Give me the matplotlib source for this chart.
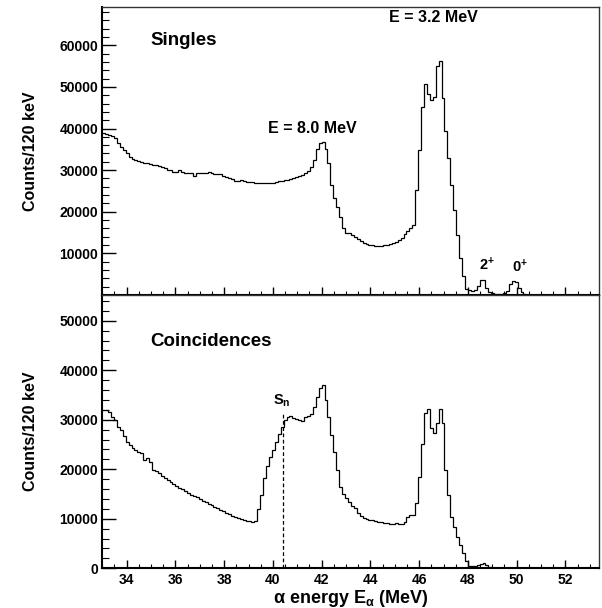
#!/usr/bin/env python3

"""Alpha energy spectra: singles (top) and coincidences (bottom).

Two stacked step histograms with 120 keV bins, drawn in a ROOT-like style.
Writes out.png.
"""

import matplotlib

matplotlib.use("Agg")
import matplotlib.pyplot as plt
from matplotlib.ticker import MultipleLocator
import numpy as np


# bins: 33.0 MeV + k * 0.12 MeV, 170 bins
bin_start = 33.0
bin_width = 0.12

singles = [
	38850, 38700, 38450, 38200, 37650, 36600, 35600, 34800, 34000, 33100,
	32600, 32400, 32250, 32000, 31800, 31600, 31400, 31200, 31200, 30950,
	30800, 30400, 30150, 30000, 29650, 29600, 30000, 29600, 29400, 29200,
	29200, 28600, 29200, 29200, 29200, 29350, 29600, 29200, 29100, 29000,
	29000, 28650, 28400, 28200, 27800, 27450, 27500, 27600, 27300, 27200,
	27100, 27050, 27000, 26950, 26950, 26900, 26800, 26950, 27000, 27150,
	27300, 27400, 27600, 27700, 27900, 28100, 28400, 28700, 28900, 29300,
	29700, 30800, 32400, 35200, 36600, 36800, 35000, 31800, 26500, 23400,
	21200, 18800, 16200, 15000, 14900, 14500, 13900, 13400, 12900, 12600,
	12300, 12100, 11900, 11800, 11750, 11800, 11900, 12100, 12300, 12500,
	12800, 13200, 13800, 14600, 15300, 16000, 16800, 25200, 34800, 45200,
	50800, 48200, 46800, 47500, 55100, 56300, 47300, 39500, 33000, 26500,
	20500, 14500, 9000, 4500, 1500, 1300, 1000, 1200, 2200, 3600,
	3600, 1800, 800, 400, 300, 200, 300, 500, 1000, 2600,
	3400, 3100, 1700, 700, 300, 100, 0, 0, 0, 0,
	0, 0, 0, 0, 0, 0, 0, 0, 0, 0,
	0, 0, 0, 0, 0, 0, 0, 0, 0, 0,
]

coincidences = [
	32000, 31900, 31600, 30600, 29900, 28600, 27900, 26700, 25600, 24900,
	24200, 23900, 23500, 23300, 21900, 22200, 21500, 19900, 19700, 19300,
	18600, 18200, 17900, 17500, 17100, 16700, 16300, 16000, 15700, 15300,
	14900, 14600, 14300, 13900, 13600, 13300, 13000, 12700, 12400, 12100,
	11800, 11500, 11200, 10900, 10600, 10400, 10200, 10000, 9800, 9600,
	9500, 9400, 9600, 11900, 14800, 18200, 20700, 22500, 23900, 25600,
	27100, 28600, 29900, 30600, 30800, 30300, 30200, 30000, 29800, 30600,
	30800, 31200, 32500, 34500, 36500, 37000, 34000, 30600, 27000, 23500,
	19800, 16500, 15000, 14200, 13400, 12600, 12100, 11200, 10500, 10100,
	9900, 9800, 9700, 9600, 9400, 9300, 9200, 9100, 9000, 8900,
	9100, 8900, 8900, 9400, 10400, 10700, 10800, 13100, 18500, 25200,
	31300, 32100, 28300, 27300, 29300, 32100, 29300, 19900, 14800, 10400,
	8400, 6400, 4700, 3000, 1400, 500, 400, 400, 600, 900,
	1000, 700, 200, 100, 0, 0, 0, 0, 0, 0,
	0, 0, 0, 0, 0, 0, 0, 0, 0, 0,
	0, 0, 0, 0, 0, 0, 0, 0, 0, 0,
	0, 0, 0, 0, 0, 0, 0, 0, 0, 0,
]

x_range = (33.0, 53.38)
singles_ylim = (0, 69200)
coinc_ylim = (0, 55200)
singles_yticks = [10000, 20000, 30000, 40000, 50000, 60000]
coinc_yticks = [0, 10000, 20000, 30000, 40000, 50000]
x_ticks = [34, 36, 38, 40, 42, 44, 46, 48, 50, 52]

s_n_energy = 40.4
s_n_height = 31600

y_title = "Counts/120 keV"
x_title = "α energy E$_{α}$ (MeV)"


def _style_axes(ax, yticks, ylim):
	ax.set_xlim(*x_range)
	ax.set_ylim(*ylim)
	ax.set_xticks(x_ticks)
	ax.xaxis.set_minor_locator(MultipleLocator(0.5))
	ax.set_yticks(yticks)
	ax.yaxis.set_minor_locator(MultipleLocator(2000))
	ax.tick_params(axis="both", which="both", direction="in",
		top=False, right=False, colors="black")
	ax.tick_params(axis="y", which="major", length=10, width=1.0, pad=3, labelsize=10)
	ax.tick_params(axis="y", which="minor", length=5, width=0.8)
	ax.tick_params(axis="x", which="major", length=6, width=1.0, pad=3.5, labelsize=10)
	ax.tick_params(axis="x", which="minor", length=3, width=0.8)
	for side in ("left", "bottom"):
		ax.spines[side].set_linewidth(1.5)
	for side in ("top", "right"):
		ax.spines[side].set_linewidth(1.0)
		ax.spines[side].set_color("#333333")
	ax.set_ylabel(y_title, fontsize=11.5, fontweight="bold")
	ax.yaxis.set_label_coords(-0.13, 0.5)


def main() -> None:
	plt.rcParams["font.family"] = ["Liberation Sans", "DejaVu Sans"]
	plt.rcParams["font.weight"] = "bold"
	plt.rcParams["axes.labelweight"] = "bold"
	plt.rcParams["mathtext.fontset"] = "custom"
	plt.rcParams["mathtext.rm"] = "Liberation Sans:bold"
	plt.rcParams["mathtext.it"] = "Liberation Sans:bold"
	plt.rcParams["mathtext.bf"] = "Liberation Sans:bold"
	plt.rcParams["mathtext.default"] = "rm"

	edges = bin_start + bin_width * np.arange(len(singles) + 1)

	fig = plt.figure(figsize=(6.02, 6.08), dpi=100)
	left = 102.3 / 602
	width = (599 - 102.3) / 602
	ax_top = fig.add_axes([left, 1 - 295 / 608, width, (295 - 7) / 608])
	ax_bot = fig.add_axes([left, 1 - 568.3 / 608, width, (568.3 - 295) / 608])

	# Singles
	ax_top.stairs(singles, edges, baseline=None, color="black", linewidth=0.9)
	_style_axes(ax_top, singles_yticks, singles_ylim)
	ax_top.tick_params(axis="x", labelbottom=False)
	ax_top.text(34.96, 60000, "Singles", fontsize=13.5, fontweight="bold", va="baseline")
	ax_top.text(39.78, 38850, "E = 8.0 MeV", fontsize=11.5, fontweight="bold", va="baseline")
	ax_top.text(44.78, 65500, "E = 3.2 MeV", fontsize=11.5, fontweight="bold", va="baseline")
	ax_top.text(48.47, 6000, "2$^{+}$", fontsize=10.5, fontweight="bold", va="baseline")
	ax_top.text(49.80, 5400, "0$^{+}$", fontsize=10.5, fontweight="bold", va="baseline")

	# Coincidences
	ax_bot.stairs(coincidences, edges, baseline=None, color="black", linewidth=0.9)
	_style_axes(ax_bot, coinc_yticks, coinc_ylim)
	ax_bot.text(34.98, 45000, "Coincidences", fontsize=13.5, fontweight="bold", va="baseline")
	ax_bot.plot([s_n_energy, s_n_energy], [0, s_n_height], color="black",
		linestyle=(0, (3, 2)), linewidth=0.9)
	ax_bot.text(39.99, 33000, "S$_{n}$", fontsize=10.5, fontweight="bold", va="baseline")
	ax_bot.set_xlabel(x_title, fontsize=13, fontweight="bold")
	ax_bot.xaxis.set_label_coords(0.5, -0.072)

	fig.savefig("out.png", dpi=100)
	plt.close(fig)


if __name__ == "__main__":
	main()
